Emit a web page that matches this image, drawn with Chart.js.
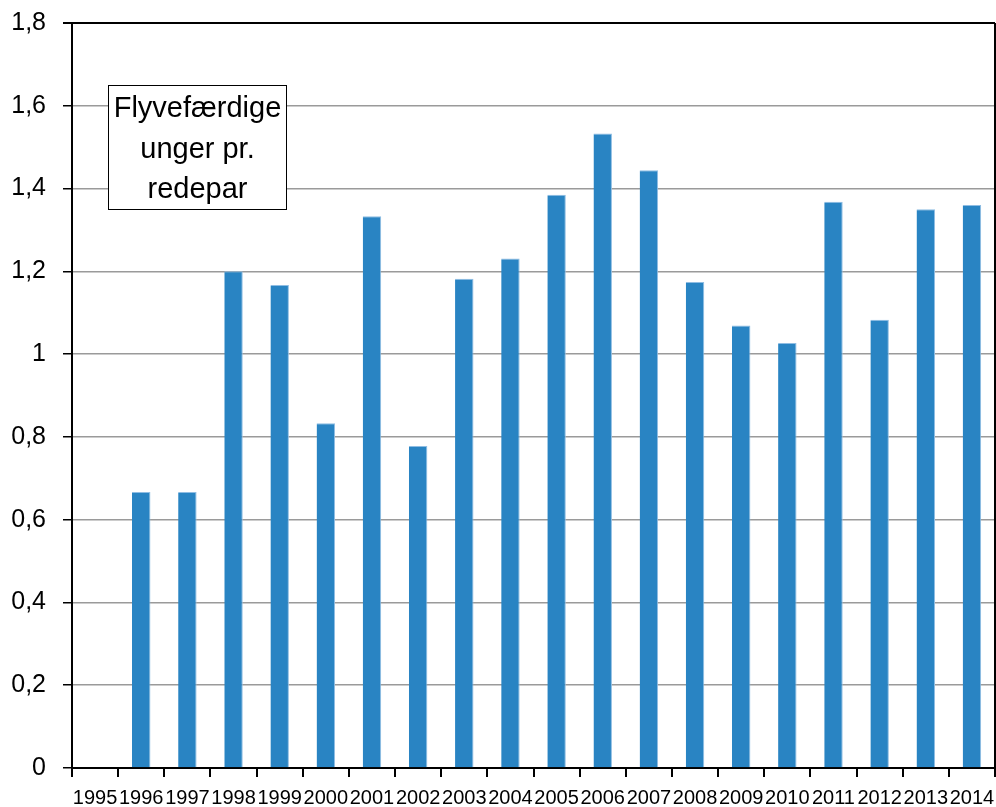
<!DOCTYPE html>
<html>
<head>
<meta charset="utf-8">
<script src="https://cdn.jsdelivr.net/npm/chart.js@4/dist/chart.umd.min.js"></script>
<style>
  html, body { margin: 0; padding: 0; background: #fff; }
  #wrap { width: 996px; height: 807px; position: relative; }
</style>
</head>
<body>
<div id="wrap"><canvas id="myChart" width="996" height="807"></canvas></div>
<script>
const years = ["1995", "1996", "1997", "1998", "1999", "2000", "2001", "2002", "2003", "2004",
    "2005", "2006", "2007", "2008", "2009", "2010", "2011", "2012", "2013", "2014"];
const young = [null, 0.667, 0.667, 1.2, 1.167, 0.833, 1.333, 0.778, 1.182, 1.231,
    1.385, 1.533, 1.444, 1.174, 1.069, 1.027, 1.368, 1.083, 1.35, 1.36];
const boxLines = ["Flyvefærdige", "unger pr.", "redepar"];
const yMax = 1.8;
const yStep = 0.2;

// frame on top/right + the label box
const extras = {
    id: "extras",
    afterDraw(chart) {
        const ctx = chart.ctx;
        const a = chart.chartArea;
        ctx.save();
        ctx.strokeStyle = "#000";
        ctx.lineWidth = 2;
        ctx.beginPath();
        ctx.moveTo(a.right, a.top);
        ctx.lineTo(a.right, a.bottom);
        ctx.stroke();

        const bx = 108.5, by = 85.5, bw = 178, bh = 124;
        ctx.fillStyle = "#fff";
        ctx.fillRect(bx, by, bw, bh);
        ctx.lineWidth = 1;
        ctx.strokeRect(bx, by, bw, bh);
        ctx.fillStyle = "#000";
        ctx.font = "29px 'Liberation Sans'";
        ctx.textAlign = "center";
        ctx.textBaseline = "middle";
        boxLines.forEach((t, i) => {
            ctx.fillText(t, bx + bw / 2, 109 + i * 40.5);
        });
        ctx.restore();
    }
};

new Chart("myChart", {
    type: "bar",
    data: {
        labels: years,
        datasets: [{
            data: young,
            backgroundColor: "#2984c3",
            borderColor: "#8fbde3",
            borderWidth: {top: 1, left: 0, right: 1, bottom: 0},
            categoryPercentage: 1,
            barPercentage: 0.4
        }]
    },
    options: {
        responsive: false,
        animation: false,
        layout: { padding: { top: 23, right: 1, left: 0, bottom: 0 } },
        plugins: {
            legend: { display: false },
            tooltip: { enabled: false }
        },
        scales: {
            x: {
                offset: true,
                grid: {
                    offset: true,
                    drawOnChartArea: false,
                    tickColor: "#000",
                    tickLength: 9,
                    lineWidth: 2
                },
                border: { color: "#000", width: 2 },
                ticks: {
                    color: "#000",
                    font: { family: "'Liberation Sans'", size: 20 },
                    maxRotation: 0,
                    autoSkip: false,
                    padding: 9
                },
                afterFit: s => { s.height = 39; s.paddingLeft = 0; s.paddingRight = 0; }
            },
            y: {
                min: 0,
                max: yMax,
                ticks: {
                    stepSize: yStep,
                    color: "#000",
                    font: { family: "'Liberation Sans'", size: 25 },
                    padding: 17,
                    callback: v => (Math.round(v * 10) / 10).toString().replace(".", ",")
                },
                grid: {
                    color: c => (c.tick && Math.abs(c.tick.value - yMax) < 1e-6) ? "#000" : "#9a9a9a",
                    lineWidth: c => (c.tick && Math.abs(c.tick.value - yMax) < 1e-6) ? 2 : 1.5,
                    tickColor: "#000",
                    tickLength: 9
                },
                border: { color: "#000", width: 2 },
                afterFit: s => { s.width = 72; s.paddingTop = 0; s.paddingBottom = 0; }
            }
        }
    },
    plugins: [extras]
});
</script>
</body>
</html>
